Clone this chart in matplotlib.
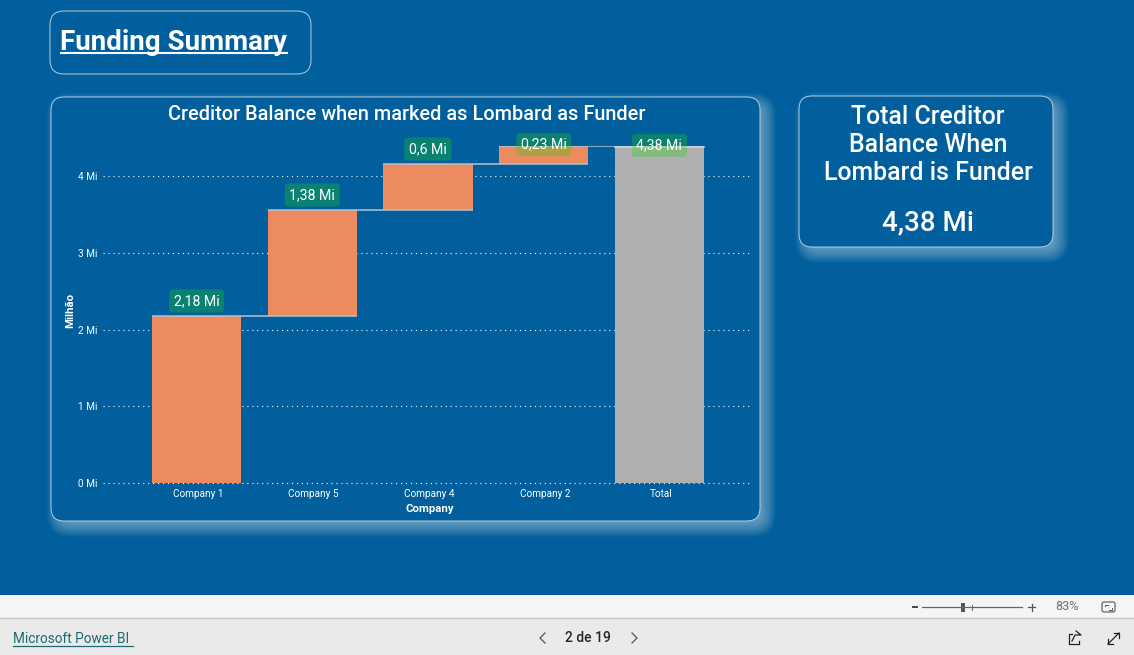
#!/usr/bin/env python3
import numpy as np
import matplotlib
matplotlib.use('Agg')
import matplotlib.pyplot as plt
from matplotlib.patches import FancyBboxPatch, Rectangle

plt.rcParams['font.family'] = ['Roboto', 'DejaVu Sans']

# Data
companies = ['Company 1', 'Company 5', 'Company 4', 'Company 2']
balances = [2.18, 1.38, 0.60, 0.23]
total_balance = 4.38
total_name = 'Total'
value_labels = ['2,18 Mi', '1,38 Mi', '0,6 Mi', '0,23 Mi', '4,38 Mi']
y_ticks = [0, 1, 2, 3, 4]
y_tick_labels = ['0 Mi', '1 Mi', '2 Mi', '3 Mi', '4 Mi']

W, H = 1134, 655
BLUE = '#005F9C'
ORANGE = '#EC8A60'
GREY = '#B0B0B0'
BORDER = '#B5CFE2'

fig = plt.figure(figsize=(W / 100, H / 100), dpi=100, facecolor=BLUE)

# Page layer, in pixels
bg = fig.add_axes([0, 0, 1, 1], zorder=0)
bg.set_xlim(0, W)
bg.set_ylim(H, 0)
bg.axis('off')


def card(x0, y0, x1, y1, radius, glow=True):
    if glow:
        # soft shadow falling to the lower right
        for d in range(10, -5, -1):
            bg.add_patch(FancyBboxPatch((x0 + 6 - d, y0 + 6 - d), x1 - x0 + 2 * d, y1 - y0 + 2 * d,
                                        boxstyle='round,pad=0,rounding_size=%d' % max(radius + d, 2),
                                        fc='white', ec='none', alpha=0.032))
    bg.add_patch(FancyBboxPatch((x0, y0), x1 - x0, y1 - y0,
                                boxstyle='round,pad=0,rounding_size=%d' % radius,
                                fc=BLUE, ec=BORDER, lw=0.7))


card(50, 11, 311, 74, 14, glow=False)
card(51, 97, 760, 521, 13)
card(799, 96, 1053, 247, 13)

# Title block
bg.text(60, 43, 'Funding Summary', color='white', fontsize=20, fontweight='bold', va='center', ha='left')
bg.plot([60, 288], [52.5, 52.5], color='white', lw=1.5, solid_capstyle='butt')

bg.text(407, 114.5, 'Creditor Balance when marked as Lombard as Funder', color='white',
        fontsize=14.35, fontweight='medium', ha='center', va='center')

# KPI card
for y, line in zip([117, 145, 173], ['Total Creditor', 'Balance When', 'Lombard is Funder']):
    bg.text(928, y, line, color='white', fontsize=17.9, fontweight='medium', ha='center', va='center')
bg.text(928, 223, '4,38 Mi', color='white', fontsize=20, fontweight='medium', ha='center', va='center')

bg.plot([884, 889], [440, 446], color='#24506E', lw=0.8)

# Power BI footer
bg.add_patch(Rectangle((0, 595), W, 23, fc='#F5F5F5', ec='none'))
bg.add_patch(Rectangle((0, 618), W, 37, fc='#EAEAEA', ec='none'))
bg.plot([0, W], [618, 618], color='#C8C8C8', lw=1)

LINK = '#1D6B73'
bg.text(13, 639, 'Microsoft Power BI', color=LINK, fontsize=9.8, va='center', ha='left')
bg.plot([13, 133], [646, 646], color=LINK, lw=0.9)
bg.text(588, 638, '2 de 19', color='#252525', fontsize=10, fontweight='medium', ha='center', va='center')
bg.plot([545, 540, 545], [633, 638, 643], color='#3C5A6A', lw=0.9)
bg.plot([632, 637, 632], [633, 638, 643], color='#3C5A6A', lw=0.9)

bg.plot([913, 917], [607, 607], color='#444444', lw=1.4)
bg.plot([922, 1022], [607, 607], color='#666666', lw=0.9)
bg.add_patch(Rectangle((961, 603), 4, 9, fc='#555555', ec='none'))
bg.plot([972, 972], [605, 610], color='#666666', lw=0.7)
bg.plot([1028, 1035], [607, 607], color='#555555', lw=0.9)
bg.plot([1031.5, 1031.5], [603.5, 610.5], color='#555555', lw=0.9)
bg.text(1066.5, 607, '83%', color='#707070', fontsize=9, ha='center', va='center')
bg.add_patch(FancyBboxPatch((1102, 602), 13, 10, boxstyle='round,pad=0,rounding_size=2',
                            fc='none', ec='#555555', lw=0.8))
bg.plot([1105, 1105, 1108], [606, 604.5, 604.5], color='#555555', lw=0.7)
bg.plot([1112, 1112, 1109], [608, 609.5, 609.5], color='#555555', lw=0.7)
# share icon
bg.plot([1072, 1069, 1069, 1079, 1079], [634, 634, 644, 644, 641], color='#222222', lw=0.9)
bg.plot([1072, 1075, 1081, 1076], [641, 635, 635, 631], color='#222222', lw=0.9)
# expand icon
bg.plot([1108, 1119], [644, 633], color='#222222', lw=0.9)
bg.plot([1114, 1119, 1119], [633, 633, 638], color='#222222', lw=0.9)
bg.plot([1108, 1108, 1113], [639, 644, 644], color='#222222', lw=0.9)

# Waterfall
left, right, bottom, top = 103, 752, 483, 146
ax = fig.add_axes([left / W, 1 - bottom / H, (right - left) / W, (bottom - top) / H], zorder=1)
ax.patch.set_alpha(0)
for s in ax.spines.values():
    s.set_visible(False)

names = companies + [total_name]
x = np.arange(len(names))
ends = np.cumsum(balances)
starts = ends - np.array(balances)
bar_w = 0.77

ax.bar(x[:-1], balances, bottom=starts, width=bar_w, color=ORANGE, zorder=3)
ax.bar(x[-1], total_balance, width=bar_w, color=GREY, zorder=3)

# connectors, and the pale rim on each bar edge
levels = list(ends) + [total_balance]
for i in range(len(levels) - 1):
    ax.plot([i - bar_w / 2, i + 1 + bar_w / 2], [levels[i], levels[i]], color='#B9C3CB', lw=1.1, zorder=4,
            solid_capstyle='butt')
ax.plot([x[-1] - bar_w / 2, x[-1] + bar_w / 2], [total_balance, total_balance], color='#D5D8DA', lw=1.1, zorder=4)

ax.set_xlim(-0.808, 4.8)
ax.set_ylim(0, 337 / 76.75)
ax.set_yticks(y_ticks)
ax.set_yticklabels(y_tick_labels)
ax.set_xticks(x + 0.012)
ax.set_xticklabels(names)
ax.tick_params(axis='both', length=0, labelcolor='white', labelsize=7.2)
ax.tick_params(axis='y', pad=4)
ax.tick_params(axis='x', pad=4.5)
ax.grid(axis='y', color='white', lw=0.85, alpha=0.9, linestyle=(0, (1, 3.2)), zorder=1)
ax.grid(axis='x', visible=False)
ax.set_axisbelow(True)
# the baseline sits on the axes edge, don't let it get cut in half
for line in ax.get_ygridlines():
    line.set_clip_on(False)
ax.set_xlabel('Company', color='white', fontsize=8.2, fontweight='bold', labelpad=3.5, x=0.503)
ax.set_ylabel('Milhão', color='white', fontsize=8.2, fontweight='bold', labelpad=2, y=0.513)

# Value badges: the last two are pushed down by the top of the plot
offsets = [5.6, 5.6, 5.6, 1, 1]
for i, label in enumerate(value_labels):
    ax.annotate(label, xy=(i, levels[i]), xytext=(0, offsets[i]), textcoords='offset points',
                ha='center', va='bottom' if offsets[i] > 2 else 'center', color='white', fontsize=10.2, zorder=6,
                annotation_clip=False,
                bbox=dict(boxstyle='round,pad=0.32,rounding_size=0.25', fc=(0.13, 0.83, 0.06, 0.3), ec='none'))

fig.savefig('out.png', dpi=100, facecolor=BLUE)
